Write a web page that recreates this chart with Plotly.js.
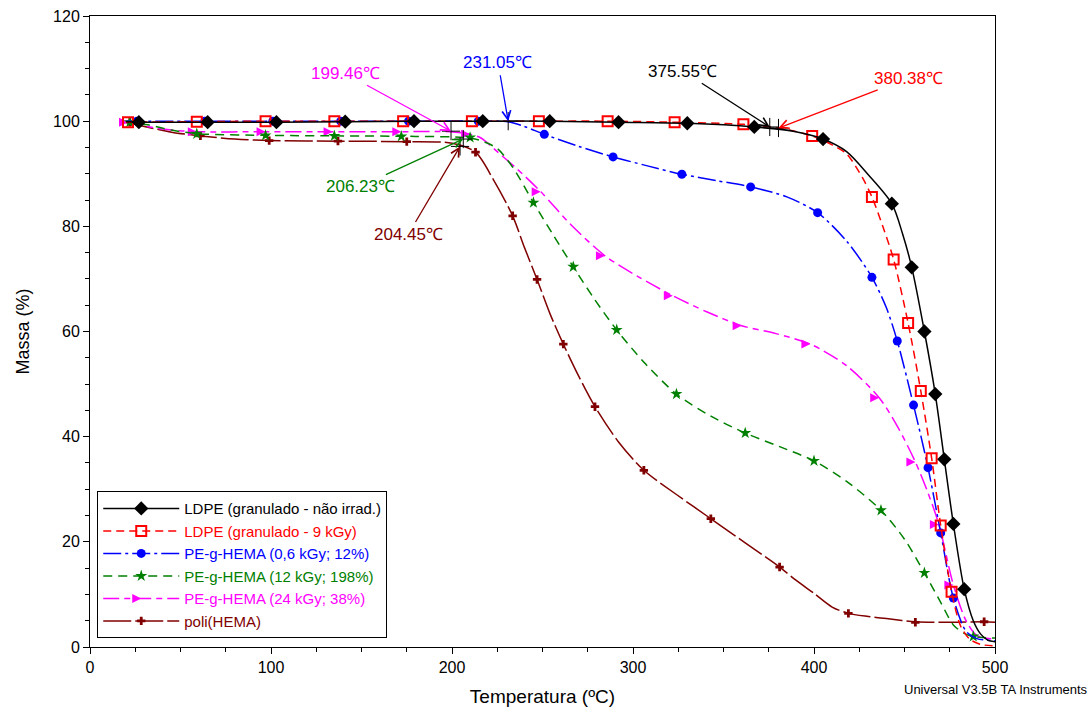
<!DOCTYPE html>
<html>
<head>
<meta charset="utf-8">
<script src="https://cdn.plot.ly/plotly-3.0.1.min.js"></script>
<style>html,body{margin:0;padding:0;background:#fff;}#chart{width:1092px;height:711px;}</style>
</head>
<body>
<div id="chart"></div>
<script>
// ---- Data (Temperature ºC, Mass %) ----
// LDPE (granulado - não irradiado)
const ldpeT = [20,27,65,103,141,179,217,254,292,330,367,390,405,418,430,443,449,454,461,467,472,477,483,488,492,496,500];
const ldpeM = [99.9,99.8,99.8,99.8,99.9,100.0,100.0,100.0,99.8,99.6,98.9,98.0,96.6,94.2,89.8,84.3,78.5,72.2,60.0,48.1,35.7,23.4,11.0,5.0,2.5,1.3,1.0];
const ldpeMkT = [27,65,103,141,179,217,254,292,330,367,405,443,454,461,467,472,477,483];
const ldpeMkM = [99.8,99.8,99.8,99.9,100.0,100.0,100.0,99.8,99.6,98.9,96.6,84.3,72.2,60.0,48.1,35.7,23.4,11.0];

// LDPE (granulado - 9 kGy)
const ldpe9T = [20,59,97,135,173,211,248,286,323,361,380,399,410,418,427,432,438,444,452,459,465,470,476,481,486,492,500];
const ldpe9M = [99.8,99.9,100.0,100.0,100.0,100.0,100.0,100.0,99.8,99.4,98.7,97.2,95.5,93.8,89.1,85.6,80.0,73.7,61.6,48.7,35.9,23.1,10.5,4.0,1.5,0.5,0.2];
const ldpe9MkT = [21,59,97,135,173,211,248,286,323,361,399,432,444,452,459,465,470,476];
const ldpe9MkM = [99.8,99.9,100.0,100.0,100.0,100.0,100.0,100.0,99.8,99.4,97.2,85.6,73.7,61.6,48.7,35.9,23.1,10.5];

// PE-g-HEMA (0,6 kGy; 12%)
const pe06T = [20,63.5,101,138.5,176,214.5,231,240,251,270,289,308,327,346,365,385,402,418,432,440,446,455,463,470,477,484,490,500];
const pe06M = [100.0,100.0,100.0,100.0,100.0,100.0,99.9,99.0,97.5,95.2,93.2,91.5,89.9,88.7,87.5,85.6,82.6,77.2,70.3,64.5,58.2,46.0,34.1,21.7,9.3,3.0,1.6,1.2];
const pe06MkT = [26,63.5,101,138.5,176,214.5,251,289,327,365,402,432,446,455,463,470,477];
const pe06MkM = [100.0,100.0,100.0,100.0,100.0,100.0,97.5,93.2,89.9,87.5,82.6,70.3,58.2,46.0,34.1,21.7,9.3];

// PE-g-HEMA (12 kGy; 198%)
const pe12T = [20,32,45,60,100,140,180,206,215,225,234,245,256,267,279,291,307,324,343,362,381,400,418,437,450,461,470,477,483,488,494,500];
const pe12M = [99.8,99.3,98.3,97.6,97.3,97.2,97.1,96.9,96.4,94.8,91.0,84.5,78.3,72.3,66.0,60.3,53.8,48.1,43.9,40.7,38.1,35.4,31.5,26.0,20.5,14.1,8.5,4.2,2.6,2.0,1.8,1.7];
const pe12MkT = [22,59,97,135,172,210,245,267,291,324,362,400,437,461,488];
const pe12MkM = [99.8,97.6,97.3,97.2,97.1,96.9,84.5,72.3,60.3,48.1,40.7,35.4,26.0,14.1,2.0];

// PE-g-HEMA (24 kGy; 38%)
const pe24T = [20,40,59,97,134,172,199,210,216,226,236,249,266,284.5,303,322,341,360,379,398,418,436,446,456,463,469,477,484,490,500];
const pe24M = [99.8,98.5,98.0,98.0,98.0,98.0,98.0,97.5,96.8,93.9,90.9,86.6,80.2,74.4,70.4,66.8,63.7,61.1,59.6,57.6,53.5,47.4,42.0,35.2,29.3,23.3,11.8,5.0,2.2,1.5];
const pe24MkT = [21,59,97,134,172,210,249,284.5,322,360,398,436,456,469,477];
const pe24MkM = [99.8,98.0,98.0,98.0,98.0,97.5,86.6,74.4,66.8,61.1,57.6,47.4,35.2,23.3,11.8];

// poli(HEMA)
const phemaT = [20,30,45,61,80,99,137,175,200,213,223,233.5,240,247,254,261.5,270,279,292,306,324,343,362,381,390,400,410,419,430,440,456,475,494,500];
const phemaM = [99.8,99.0,97.9,97.2,96.6,96.3,96.2,96.1,95.8,94.1,88.8,82.0,76.0,69.9,63.5,57.6,51.5,45.7,39.0,33.6,29.0,24.4,19.8,15.2,12.7,10.2,7.6,6.4,5.8,5.4,4.8,4.7,4.8,4.7];
const phemaMkT = [22,61,99,137,175,213,233.5,247,261.5,279,306,343,381,419,456,494];
const phemaMkM = [99.8,97.2,96.3,96.2,96.1,94.1,82.0,69.9,57.6,45.7,33.6,24.4,15.2,6.4,4.7,4.8];

// Onset temperatures (label text, onset T, mass at onset, label position T, label position mass)
const onsetLabels = ['199.46℃','206.23℃','204.45℃','231.05℃','375.55℃','380.38℃'];
const onsetT      = [199.46, 206.23, 204.45, 231.05, 375.55, 380.38];
const onsetM      = [98.1, 96.6, 95.2, 100.0, 98.9, 98.7];
const labelT      = [140.9, 149.2, 175.7, 225.4, 327.6, 452.0];
const labelM      = [109.1, 87.6, 78.4, 111.2, 109.5, 108.2];

const seriesNames = ['LDPE (granulado - não irrad.)','LDPE (granulado - 9 kGy)','PE-g-HEMA (0,6 kGy; 12%)','PE-g-HEMA (12 kGy; 198%)','PE-g-HEMA (24 kGy; 38%)','poli(HEMA)'];

// ---- styles ----
const colors = ['#000000','#FF0000','#0000FF','#008000','#FF00FF','#800000'];
const onsetColors = ['#FF00FF','#008000','#800000','#0000FF','#000000','#FF0000'];
const dashes = ['solid','8px,5px','18px,4px,3px,4px','9px,6px','16px,5px,6px,5px','28px,4px'];
const markers = [
  {symbol:'diamond', size:11, color:'#000000'},
  {symbol:'square-open', size:10, color:'#FF0000', line:{width:2, color:'#FF0000'}},
  {symbol:'circle', size:9, color:'#0000FF'},
  {symbol:'star', size:9, color:'#008000'},
  {symbol:'arrow-right', size:9, color:'#FF00FF'},
  {symbol:'cross', size:7, color:'#800000'}
];

const curves = [[ldpeT,ldpeM],[ldpe9T,ldpe9M],[pe06T,pe06M],[pe12T,pe12M],[pe24T,pe24M],[phemaT,phemaM]];
const marks  = [[ldpeMkT,ldpeMkM],[ldpe9MkT,ldpe9MkM],[pe06MkT,pe06MkM],[pe12MkT,pe12MkM],[pe24MkT,pe24MkM],[phemaMkT,phemaMkM]];

const traces = [];
// draw order: back to front
const order = [5,4,3,2,1,0];
order.forEach(i => {
  traces.push({x: curves[i][0], y: curves[i][1], type:'scatter', mode:'lines',
    line:{color:colors[i], width:1.5, dash:dashes[i], shape:'spline', smoothing:0.8},
    showlegend:false, hoverinfo:'skip'});
  traces.push({x: marks[i][0], y: marks[i][1], type:'scatter', mode:'markers',
    marker: markers[i], showlegend:false, hoverinfo:'skip'});
});
// onset cross marks
traces.push({x: onsetT, y: onsetM, type:'scatter', mode:'markers',
  marker:{symbol:'cross-thin-open', size:13, line:{width:1, color:'#000000'}, color:'#000000'},
  showlegend:false, hoverinfo:'skip'});
// legend entries
for (let i = 0; i < 6; i++) {
  traces.push({x:[null], y:[null], type:'scatter', mode:'lines+markers',
    name: '<span style="color:' + colors[i] + '">' + seriesNames[i] + '</span>',
    line:{color:colors[i], width:1.5, dash:dashes[i]}, marker: markers[i], showlegend:true});
}

const annotations = onsetLabels.map((t, k) => ({
  x: onsetT[k], y: onsetM[k], xref:'x', yref:'y',
  ax: labelT[k], ay: labelM[k], axref:'x', ayref:'y',
  text: t, showarrow:true, arrowhead:5, arrowsize:1.3, arrowwidth:1.3,
  arrowcolor: onsetColors[k], standoff:0, startstandoff:2,
  font:{family:'Liberation Sans, Arial, sans-serif', size:17, color: onsetColors[k]}
}));
annotations.push({
  text:'Universal V3.5B TA Instruments', xref:'paper', yref:'paper',
  x:1.105, y:-0.068, xanchor:'right', yanchor:'middle', showarrow:false,
  font:{family:'Liberation Sans Narrow, Liberation Sans, Arial, sans-serif', size:13, color:'#000'}
});

const layout = {
  width:1092, height:711,
  margin:{l:90, r:97, t:16, b:64},
  paper_bgcolor:'#fff', plot_bgcolor:'#fff',
  font:{family:'Liberation Sans, Arial, sans-serif', size:16, color:'#000'},
  xaxis:{range:[0,500], dtick:100, tick0:0, ticks:'outside', ticklen:6, tickwidth:1, tickcolor:'#000',
    minor:{dtick:25, ticks:'outside', ticklen:4, tickcolor:'#000', showgrid:false},
    showgrid:false, zeroline:false, showline:true, linecolor:'#000', linewidth:1, mirror:true,
    tickfont:{size:16}, title:{text:'Temperatura (ºC)', font:{size:19}, standoff:14}},
  yaxis:{range:[0,120], dtick:20, tick0:0, ticks:'outside', ticklen:6, tickwidth:1, tickcolor:'#000',
    minor:{dtick:5, ticks:'outside', ticklen:4, tickcolor:'#000', showgrid:false},
    showgrid:false, zeroline:false, showline:true, linecolor:'#000', linewidth:1, mirror:true,
    tickfont:{size:16}, title:{text:'Massa (%)', font:{size:18}, standoff:18}},
  legend:{x:0.008, y:0.014, xanchor:'left', yanchor:'bottom', bgcolor:'#fff',
    bordercolor:'#000', borderwidth:1, font:{size:15}, itemwidth:76, tracegroupgap:0},
  annotations: annotations,
  showlegend:true
};

Plotly.newPlot('chart', traces, layout, {displayModeBar:false, staticPlot:true});
</script>
</body>
</html>
